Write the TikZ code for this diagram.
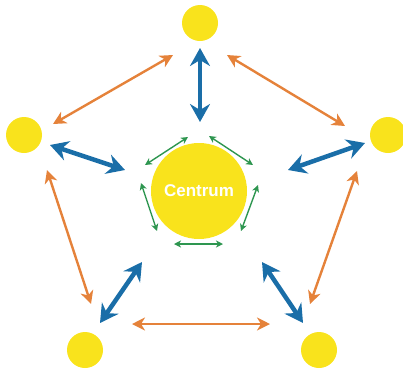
\documentclass[tikz,border=0pt]{standalone}
\usepackage{fontspec}
\setmainfont{Liberation Sans}
\usetikzlibrary{arrows.meta}
\definecolor{cyel}{HTML}{F9E31C}
\definecolor{cblue}{HTML}{1A6EA8}
\definecolor{corange}{HTML}{E5823A}
\definecolor{cgreen}{HTML}{2E9650}
\tikzset{
  sat/.style={circle,fill=cyel,minimum size=36pt,inner sep=0pt},
  hub/.style={circle,fill=cyel,minimum size=96pt,inner sep=0pt,text=white,font=\fontsize{17}{17}\selectfont\bfseries},
  bluearr/.style={cblue,line width=4.5pt,{Stealth[length=18pt,width=20pt,inset=6pt]}-{Stealth[length=18pt,width=20pt,inset=6pt]}},
  orarr/.style={corange,line width=2.4pt,{Stealth[length=13pt,width=13pt,inset=4pt]}-{Stealth[length=13pt,width=13pt,inset=4pt]}},
  grarr/.style={cgreen,line width=1.4pt,{Stealth[length=7pt,width=7pt,inset=2pt]}-{Stealth[length=7pt,width=7pt,inset=2pt]}}
}
\begin{document}
\begin{tikzpicture}[x=1pt,y=-1pt]
\useasboundingbox (0,0) rectangle (403,370);
\node[hub] (c) at (199,191) {Centrum};
\node[sat] (t) at (200,23) {};
\node[sat] (l) at (24,135) {};
\node[sat] (r) at (388,135) {};
\node[sat] (bl) at (85,350) {};
\node[sat] (br) at (319,350) {};
% blue
\coordinate (b1a) at (200,48); \coordinate (b1b) at (200,122);
\coordinate (b2a) at (50,145); \coordinate (b2b) at (125,170);
\coordinate (b3a) at (365,143); \coordinate (b3b) at (288,170);
\coordinate (b4a) at (100,323); \coordinate (b4b) at (142,262);
\coordinate (b5a) at (303,323); \coordinate (b5b) at (262,262);
\draw[bluearr] (b1a) -- (b1b);
\draw[bluearr] (b2a) -- (b2b);
\draw[bluearr] (b3a) -- (b3b);
\draw[bluearr] (b4a) -- (b4b);
\draw[bluearr] (b5a) -- (b5b);
% orange
\coordinate (o1a) at (53,124); \coordinate (o1b) at (173,55);
\coordinate (o2a) at (227,55); \coordinate (o2b) at (345,126);
\coordinate (o3a) at (47,170); \coordinate (o3b) at (91,304);
\coordinate (o4a) at (357,171); \coordinate (o4b) at (310,304);
\coordinate (o5a) at (132,324); \coordinate (o5b) at (270,324);
\draw[orarr] (o1a) -- (o1b);
\draw[orarr] (o2a) -- (o2b);
\draw[orarr] (o3a) -- (o3b);
\draw[orarr] (o4a) -- (o4b);
\draw[orarr] (o5a) -- (o5b);
% green
\coordinate (g1a) at (145,165); \coordinate (g1b) at (188,137);
\coordinate (g2a) at (209,136); \coordinate (g2b) at (253,165);
\coordinate (g3a) at (141,183); \coordinate (g3b) at (157,231);
\coordinate (g4a) at (258,185); \coordinate (g4b) at (241,231);
\coordinate (g5a) at (174,244); \coordinate (g5b) at (223,244);
\draw[grarr] (g1a) -- (g1b);
\draw[grarr] (g2a) -- (g2b);
\draw[grarr] (g3a) -- (g3b);
\draw[grarr] (g4a) -- (g4b);
\draw[grarr] (g5a) -- (g5b);
\end{tikzpicture}
\end{document}
